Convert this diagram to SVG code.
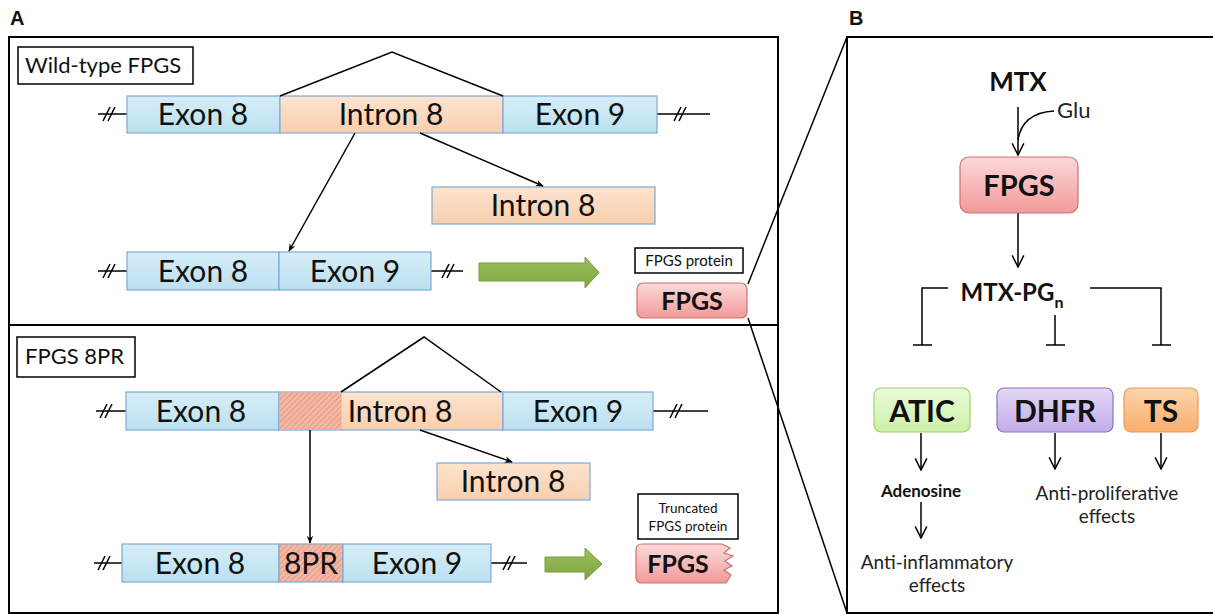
<svg xmlns="http://www.w3.org/2000/svg" width="1213" height="615" viewBox="0 0 1213 615">
<defs>
<linearGradient id="gExon" x1="0" y1="0" x2="0" y2="1"><stop offset="0" stop-color="#d6eef8"/><stop offset="1" stop-color="#bbe0ef"/></linearGradient>
<linearGradient id="gIntron" x1="0" y1="0" x2="0" y2="1"><stop offset="0" stop-color="#fde3cf"/><stop offset="1" stop-color="#f9cfae"/></linearGradient>
<linearGradient id="gPink" x1="0" y1="0" x2="0" y2="1"><stop offset="0" stop-color="#fcd9d9"/><stop offset="1" stop-color="#f29a9a"/></linearGradient>
<linearGradient id="gGreen" x1="0" y1="0" x2="0" y2="1"><stop offset="0" stop-color="#eafbd8"/><stop offset="1" stop-color="#cdf0a8"/></linearGradient>
<linearGradient id="gPurple" x1="0" y1="0" x2="0" y2="1"><stop offset="0" stop-color="#e4d9f5"/><stop offset="1" stop-color="#c2acea"/></linearGradient>
<linearGradient id="gOrange" x1="0" y1="0" x2="0" y2="1"><stop offset="0" stop-color="#fcd4ad"/><stop offset="1" stop-color="#f9ae6e"/></linearGradient>
<linearGradient id="gArrow" x1="0" y1="0" x2="0" y2="1"><stop offset="0" stop-color="#9cc05c"/><stop offset="1" stop-color="#7ea544"/></linearGradient>
<pattern id="hatch" width="4" height="4" patternUnits="userSpaceOnUse" patternTransform="rotate(45)">
<rect width="4" height="4" fill="#f4b8a4"/><line x1="0" y1="0" x2="0" y2="4" stroke="#e0806a" stroke-width="1.2"/>
</pattern>
<marker id="af" viewBox="0 0 10 10" refX="9" refY="5" markerWidth="8" markerHeight="8" orient="auto" markerUnits="userSpaceOnUse">
<path d="M0,1 L10,5 L0,9 L3,5 Z" fill="#000"/>
</marker>
<marker id="av" viewBox="0 0 12 12" refX="11" refY="6" markerWidth="14" markerHeight="14" orient="auto" markerUnits="userSpaceOnUse">
<path d="M1,1 L11,6 L1,11" fill="none" stroke="#000" stroke-width="1.3"/>
</marker>
</defs>
<style>
.frame{fill:none;stroke:#000;stroke-width:2}
.exon{fill:url(#gExon);stroke:#7fa9d6;stroke-width:1.2}
.intron{fill:url(#gIntron);stroke:#7fa9d6;stroke-width:1.2}
.ln{fill:none;stroke:#000;stroke-width:1.5}
.big{font-family:Lato,"Open Sans",sans-serif;font-size:30px;fill:#111;text-anchor:middle}
.lab{font-family:Lato,"Open Sans",sans-serif;font-size:22px;fill:#111}
.small{font-family:Lato,"Open Sans",sans-serif;font-size:15px;fill:#111;text-anchor:middle}
.tiny{font-family:Lato,"Open Sans",sans-serif;font-size:13.5px;fill:#111;text-anchor:middle}
.bold{font-family:Lato,"Open Sans",sans-serif;font-weight:bold;fill:#111;text-anchor:middle}
.reg{font-family:Lato,"Open Sans",sans-serif;fill:#222;text-anchor:middle;font-size:19px}
.glu{font-family:Lato,"Open Sans",sans-serif;fill:#222;font-size:22px}
.panel{font-family:"Liberation Sans",Arial,sans-serif;font-weight:bold;font-size:20px;fill:#111}
.green{fill:url(#gArrow);stroke:#76a03c;stroke-width:1}
</style>

<text class="panel" x="10" y="25">A</text>
<text class="panel" x="849" y="25">B</text>
<rect class="frame" x="9" y="37" width="769" height="576"/>
<line class="frame" x1="9" y1="325" x2="778" y2="325"/>
<rect class="frame" x="847" y="37" width="370" height="576"/>

<g id="wt-label"><rect x="18" y="47" width="175" height="37" fill="#fff" stroke="#000" stroke-width="1.5"/><text class="lab" x="25" y="73">Wild-type FPGS</text></g>

<g id="wt-pre">
<line class="ln" x1="98" y1="114" x2="127" y2="114"/><line class="ln" x1="103" y1="121" x2="110" y2="107"/><line class="ln" x1="108" y1="121" x2="115" y2="107"/>
<line class="ln" x1="657" y1="114" x2="710" y2="114"/><line class="ln" x1="674" y1="121" x2="681" y2="107"/><line class="ln" x1="679" y1="121" x2="686" y2="107"/>
<rect class="exon" x="127" y="96" width="153" height="37"/><text class="big" x="203" y="125">Exon 8</text>
<rect class="intron" x="280" y="96" width="223" height="37"/><text class="big" x="391" y="125">Intron 8</text>
<rect class="exon" x="503" y="96" width="154" height="37"/><text class="big" x="580" y="125">Exon 9</text>
</g>
<g id="wt-intron"><rect class="intron" x="432" y="187" width="223" height="37"/><text class="big" x="543" y="216">Intron 8</text></g>
<g id="wt-mrna">
<line class="ln" x1="98" y1="271" x2="127" y2="271"/><line class="ln" x1="103" y1="278" x2="110" y2="264"/><line class="ln" x1="108" y1="278" x2="115" y2="264"/>
<line class="ln" x1="431" y1="271" x2="463" y2="271"/><line class="ln" x1="442" y1="278" x2="449" y2="264"/><line class="ln" x1="447" y1="278" x2="454" y2="264"/>
<rect class="exon" x="127" y="252" width="152" height="38"/><text class="big" x="203" y="282">Exon 8</text>
<rect class="exon" x="279" y="252" width="152" height="38"/><text class="big" x="355" y="282">Exon 9</text>
</g>
<g id="wt-green"><path class="green" d="M479,263 L585,263 L585,257 L599,272.5 L585,288 L585,281 L479,281 Z"/></g>
<g id="wt-protein">
<rect x="635" y="248" width="108" height="25" fill="#fff" stroke="#000" stroke-width="1.5"/><text class="small" x="689" y="266">FPGS protein</text>
<rect x="637" y="283" width="110" height="35" rx="6" fill="url(#gPink)" stroke="#d07070" stroke-width="1.2"/><text class="bold" x="692" y="310" font-size="25">FPGS</text>
</g>

<g id="mut-label"><rect x="17" y="337" width="118" height="40" fill="#fff" stroke="#000" stroke-width="1.5"/><text class="lab" x="25" y="364">FPGS 8PR</text></g>
<g id="mut-pre">
<line class="ln" x1="96" y1="411" x2="126" y2="411"/><line class="ln" x1="100" y1="418" x2="107" y2="404"/><line class="ln" x1="105" y1="418" x2="112" y2="404"/>
<line class="ln" x1="653" y1="411" x2="708" y2="411"/><line class="ln" x1="670" y1="418" x2="677" y2="404"/><line class="ln" x1="675" y1="418" x2="682" y2="404"/>
<rect class="exon" x="126" y="392" width="153" height="38"/><text class="big" x="201" y="422">Exon 8</text>
<rect class="intron" x="279" y="392" width="224" height="38"/>
<rect x="279.6" y="392.6" width="62" height="36.8" fill="url(#hatch)"/>
<text class="big" x="400" y="422">Intron 8</text>
<rect class="exon" x="503" y="392" width="150" height="38"/><text class="big" x="578" y="422">Exon 9</text>
</g>
<g id="mut-intron"><rect class="intron" x="437" y="463" width="153" height="37"/><text class="big" x="513" y="492">Intron 8</text></g>
<g id="mut-mrna">
<line class="ln" x1="94" y1="563" x2="122" y2="563"/><line class="ln" x1="98" y1="570" x2="105" y2="556"/><line class="ln" x1="103" y1="570" x2="110" y2="556"/>
<line class="ln" x1="491" y1="563" x2="527" y2="563"/><line class="ln" x1="503" y1="570" x2="510" y2="556"/><line class="ln" x1="508" y1="570" x2="515" y2="556"/>
<rect class="exon" x="122" y="544" width="157" height="38"/><text class="big" x="200" y="574">Exon 8</text>
<rect x="279" y="544" width="64" height="38" fill="url(#hatch)" stroke="#7fa9d6" stroke-width="1.2"/><text class="big" x="311" y="574">8PR</text>
<rect class="exon" x="343" y="544" width="148" height="38"/><text class="big" x="417" y="574">Exon 9</text>
</g>
<g id="mut-green"><path class="green" d="M545,557 L585,557 L585,548 L602,564 L585,580 L585,572 L545,572 Z"/></g>
<g id="mut-protein">
<rect x="638" y="494" width="100" height="45" fill="#fff" stroke="#000" stroke-width="1.5"/>
<text class="tiny" x="688" y="513">Truncated</text><text class="tiny" x="688" y="531">FPGS protein</text>
<path d="M642,544 L722,544 L730,548 L724,553 L733,556 L725,561 L732,566 L724,570 L731,575 L726,583 L642,583 Q636,583 636,577 L636,550 Q636,544 642,544 Z" fill="url(#gPink)" stroke="#d07070" stroke-width="1.2"/>
<text class="bold" x="678" y="573" font-size="25">FPGS</text>
</g>

<g id="connectors">
<path class="ln" d="M280,96 L392,52 L503,96"/>
<line class="ln" x1="355" y1="133" x2="289" y2="251" marker-end="url(#af)"/>
<line class="ln" x1="420" y1="133" x2="543" y2="186" marker-end="url(#af)"/>
<path class="ln" d="M341,392 L424,337 L501,392"/>
<line class="ln" x1="310" y1="430" x2="310" y2="543" marker-end="url(#af)"/>
<line class="ln" x1="420" y1="430" x2="512" y2="462" marker-end="url(#af)"/>
<line class="ln" x1="748" y1="284" x2="847" y2="37"/>
<line class="ln" x1="748" y1="318" x2="847" y2="613"/>
<line class="ln" x1="1018" y1="107" x2="1018" y2="155" marker-end="url(#av)"/>
<path class="ln" d="M1054,111 Q1022,113 1018,140"/>
<line class="ln" x1="1018" y1="213" x2="1018" y2="267" marker-end="url(#av)"/>
<path class="ln" d="M948,288 L922,288 L922,345 M913,345 L932,345"/>
<path class="ln" d="M1090,288 L1161,288 L1161,345 M1152,345 L1171,345"/>
<path class="ln" d="M1055,315 L1055,345 M1046,345 L1065,345"/>
<line class="ln" x1="921" y1="433" x2="921" y2="470" marker-end="url(#av)"/>
<line class="ln" x1="921" y1="502" x2="921" y2="538" marker-end="url(#av)"/>
<line class="ln" x1="1055" y1="433" x2="1055" y2="469" marker-end="url(#av)"/>
<line class="ln" x1="1161" y1="433" x2="1161" y2="469" marker-end="url(#av)"/>
</g>

<g id="mtx"><text class="bold" x="1018" y="91" font-size="26">MTX</text></g>
<g id="glu"><text class="glu" x="1057" y="118">Glu</text></g>
<g id="fpgs"><rect x="960" y="157" width="118" height="56" rx="9" fill="url(#gPink)" stroke="#d07070" stroke-width="1.2"/><text class="bold" x="1019" y="196" font-size="29">FPGS</text></g>
<g id="mtxpg"><text class="bold" x="1012" y="301" font-size="24">MTX-PG<tspan font-size="16" dy="7">n</tspan></text></g>
<g id="atic"><rect x="874" y="388" width="96" height="44" rx="7" fill="url(#gGreen)" stroke="#9fd070" stroke-width="1.2"/><text class="bold" x="922" y="422" font-size="30">ATIC</text></g>
<g id="dhfr"><rect x="997" y="388" width="116" height="44" rx="7" fill="url(#gPurple)" stroke="#8c72b8" stroke-width="1.2"/><text class="bold" x="1055" y="422" font-size="30">DHFR</text></g>
<g id="ts"><rect x="1124" y="388" width="74" height="44" rx="7" fill="url(#gOrange)" stroke="#f09a50" stroke-width="1.2"/><text class="bold" x="1161" y="422" font-size="30">TS</text></g>
<g id="adenosine"><text class="bold" x="921" y="497" font-size="17">Adenosine</text></g>
<g id="antiinfl"><text class="reg" x="937" y="569">Anti-inflammatory</text><text class="reg" x="937" y="592">effects</text></g>
<g id="antiprol"><text class="reg" x="1107" y="500">Anti-proliferative</text><text class="reg" x="1107" y="523">effects</text></g>
</svg>
